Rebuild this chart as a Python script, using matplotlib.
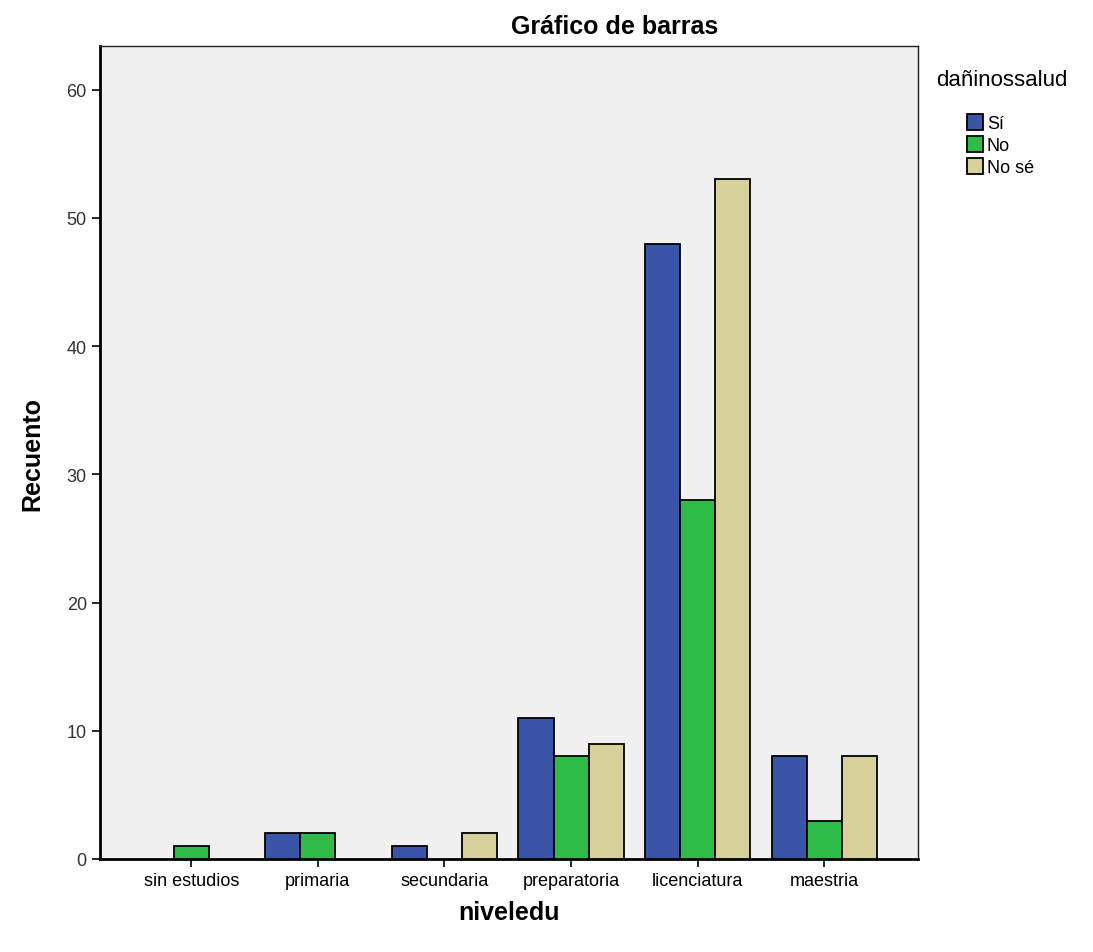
import matplotlib
matplotlib.use("Agg")
import matplotlib.pyplot as plt
import numpy as np

# chart data
categories = ["sin estudios", "primaria", "secundaria", "preparatoria", "licenciatura", "maestria"]
series_names = ["Sí", "No", "No sé"]
si_counts = [0, 2, 1, 11, 48, 8]
no_counts = [1, 2, 0, 8, 28, 3]
nose_counts = [0, 0, 2, 9, 53, 8]
y_ticks = [0, 10, 20, 30, 40, 50, 60]

colors = ["#3a55a8", "#2fbb48", "#d6d09a"]

plt.rcParams['font.family'] = ['Liberation Sans', 'DejaVu Sans']

fig = plt.figure(figsize=(10.93, 9.53), dpi=100)
ax = fig.add_axes([0.0915, 0.0976, 0.7485, 0.853])
ax.set_facecolor("#f0f0f0")

x = np.arange(len(categories))
width = 0.277
for i, (vals, name) in enumerate(zip([si_counts, no_counts, nose_counts], series_names)):
    vals = np.array(vals, dtype=float)
    # SPSS does not draw empty bars, so mask zero counts
    shown = vals > 0
    ax.bar((x + (i - 1) * width)[shown], vals[shown], width, color=colors[i],
           edgecolor="black", linewidth=1.3, label=name, zorder=3)

ax.set_xlim(-0.72, len(categories) - 1 + 0.74)
ax.set_ylim(0, 63.4)
ax.set_xticks(x)
ax.set_xticklabels(categories, fontsize=13)
ax.set_yticks(y_ticks)
ax.set_yticklabels([str(t) for t in y_ticks], fontsize=13, color="#333333")
ax.tick_params(axis='both', length=6, width=1.2, direction='out')

for side in ["left", "bottom"]:
    ax.spines[side].set_linewidth(2)
for side in ["top", "right"]:
    ax.spines[side].set_linewidth(1)
    ax.spines[side].set_color("#222222")

ax.set_ylabel("Recuento", fontsize=18, fontweight="bold", labelpad=16)
ax.set_xlabel("niveledu", fontsize=18, fontweight="bold", labelpad=8)
fig.text(615 / 1093, 1 - 27 / 953, "Gráfico de barras", fontsize=18,
         fontweight="bold", ha="center", va="center")

fig.text(1002 / 1093, 1 - 80 / 953, "dañinossalud", fontsize=16, ha="center", va="center")
ax.legend(loc="upper left", bbox_to_anchor=(958 / 1093, 1 - 106 / 953),
          bbox_transform=fig.transFigure, frameon=False, fontsize=13,
          handlelength=0.9, handleheight=1.0, handletextpad=0.2,
          labelspacing=0.2, borderpad=0)

fig.savefig("out.png", dpi=100, facecolor="white")
